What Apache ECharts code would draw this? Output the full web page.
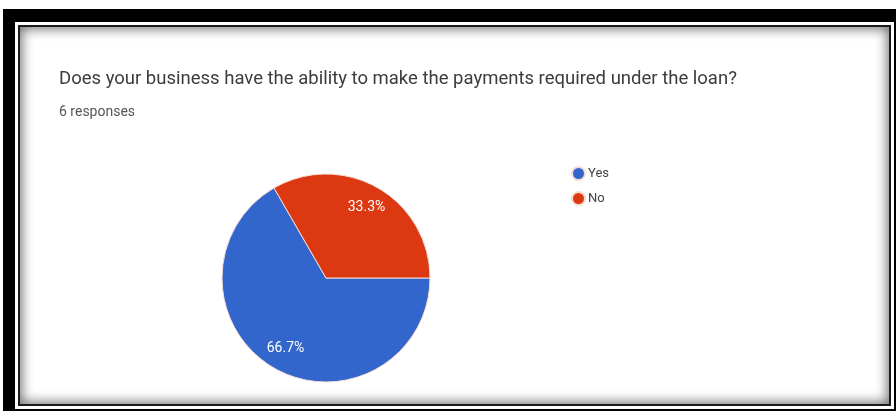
<!DOCTYPE html>
<html>
<head>
<meta charset="utf-8">
<script src="https://cdn.jsdelivr.net/npm/echarts@6/dist/echarts.min.js"></script>
<style>
  html, body { margin: 0; padding: 0; background: #fff; }
  #wrap { position: relative; width: 896px; height: 413px; overflow: hidden; background: #fff; }
  #frame { position: absolute; left: 3px; top: 9px; width: 893px; height: 402px; background: #000; }
  #panel { position: absolute; left: 18px; top: 25px; width: 869px; height: 377px; background: #fff;
           border: 2px solid #1a1a1a;
           box-shadow: 0 0 0 3px #fff, inset 0 0 12px 2px rgba(0,0,0,0.55); }
  #chart { position: absolute; left: 0; top: 0; width: 896px; height: 413px; }
</style>
</head>
<body>
<div id="wrap">
  <div id="frame"></div>
  <div id="panel"></div>
  <div id="chart"></div>
</div>
<script>
const titleText = 'Does your business have the ability to make the payments required under the loan?';
const subtitleText = '6 responses';
const categories = ['Yes', 'No'];
const values = [4, 2];
const colors = ['#3366cc', '#dc3912'];

const data = categories.map((c, i) => ({ name: c, value: values[i], itemStyle: { color: colors[i] } }));
const total = values.reduce((a, b) => a + b, 0);

const chart = echarts.init(document.getElementById('chart'), null, { renderer: 'canvas' });
chart.setOption({
  backgroundColor: 'transparent',
  animation: false,
  title: [
    { text: titleText, left: 59, top: 70, padding: 0,
      textStyle: { fontFamily: 'Roboto', fontSize: 18.5, fontWeight: 'normal', color: '#3c3c3c' } },
    { text: subtitleText, left: 59, top: 105, padding: 0,
      textStyle: { fontFamily: 'Roboto', fontSize: 14, fontWeight: 'normal', color: '#555' } }
  ],
  legend: {
    orient: 'vertical', left: 571, top: 166, padding: 0,
    icon: 'circle', itemWidth: 13, itemHeight: 13, itemGap: 10,
    data: categories,
    textStyle: { fontFamily: 'Roboto', fontSize: 13, color: '#444', padding: [0, 0, 0, -2] }
  },
  series: [
    {
      type: 'pie', name: 'main',
      center: [326, 278], radius: 104,
      startAngle: 0, clockwise: true,
      data: data,
      label: { show: false }, labelLine: { show: false },
      itemStyle: { borderColor: '#f4dcd4', borderWidth: 1 },
      emphasis: { disabled: true }
    },
    {
      type: 'pie', name: 'labels', silent: true,
      center: [326, 278], radius: [52, 104],
      startAngle: 0, clockwise: true,
      data: data.map(d => ({ name: d.name, value: d.value, itemStyle: { color: 'rgba(0,0,0,0)' } })),
      label: { show: true, position: 'inside', color: '#fff', fontFamily: 'Roboto', fontSize: 14,
               formatter: p => (p.value / total * 100).toFixed(1) + '%' },
      labelLine: { show: false },
      legendHoverLink: false,
      emphasis: { disabled: true }
    }
  ]
});
</script>
</body>
</html>
